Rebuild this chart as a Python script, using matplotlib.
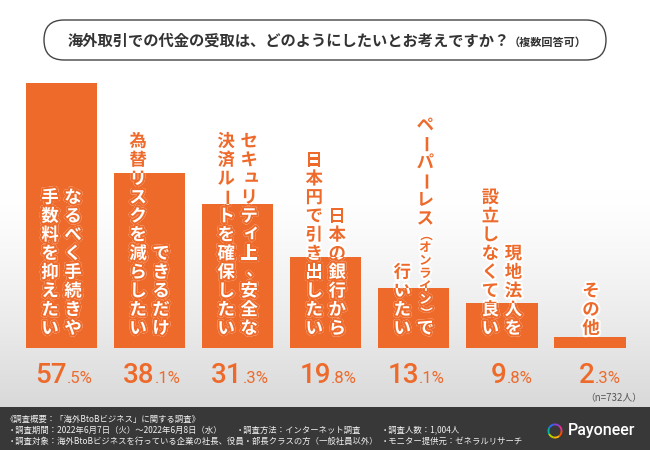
import matplotlib
matplotlib.use('Agg')
import matplotlib.pyplot as plt
import numpy as np
from matplotlib import patheffects as pe
from matplotlib.patches import FancyBboxPatch, Rectangle, Wedge

# ---------------- data ----------------
labels_right = ["なるべく手続きや", "できるだけ", "セキュリティ上、安全な", "日本の銀行から",
                "ペーパーレス（オンライン）で", "現地法人を", "その他"]
labels_left = ["手数料を抑えたい", "為替リスクを減らしたい", "決済ルートを確保したい",
               "日本円で引き出したい", "行いたい", "設立しなくて良い", ""]
values = [57.5, 38.1, 31.3, 19.8, 13.1, 9.8, 2.3]

title_main = "海外取引での代金の受取は、どのようにしたいとお考えですか？"
title_sub = "（複数回答可）"
sample_note = "（n=732人）"
footer_lines = [
    ("《調査概要：「海外BtoBビジネス」に関する調査》", 6, 419),
    ("・調査期間：2022年6月7日（火）～2022年6月8日（水）", 8, 430),
    ("・調査方法：インターネット調査", 236, 430),
    ("・調査人数：1,004人", 381, 430),
    ("・調査対象：海外BtoBビジネスを行っている企業の社長、役員・部長クラスの方（一般社員以外）", 8, 441),
    ("・モニター提供元：ゼネラルリサーチ", 381, 441),
]
brand = "Payoneer"

ORANGE = '#EE6A2B'
JP = ['Noto Sans CJK JP', 'DejaVu Sans']
DPI = 100
PT = 72.0 / DPI

fig = plt.figure(figsize=(6.5, 4.5), dpi=DPI)

# background axes in pixel coordinates
bg = fig.add_axes([0, 0, 1, 1])
bg.set_xlim(0, 650)
bg.set_ylim(450, 0)
bg.axis('off')

g = np.linspace(0, 1, 256) ** 1.3
c = 1 - 0.15 * g
img = np.dstack([c, c, c]).reshape(256, 1, 3)
bg.imshow(img, extent=(0, 650, 407, 190), aspect='auto', zorder=0)
bg.add_patch(Rectangle((0, 407), 650, 43, facecolor='#383838', edgecolor='none', zorder=1))

# title box
bg.add_patch(FancyBboxPatch((44, 20), 562, 40, boxstyle="round,pad=0,rounding_size=20",
                            facecolor='white', edgecolor='#444444', linewidth=1.0, zorder=2))
bg.text(68, 41, title_main, fontsize=11, fontweight='bold', color='#333333',
        family=JP, ha='left', va='center', zorder=3)
bg.text(509, 42, title_sub, fontsize=8, fontweight='bold', color='#333333',
        family=JP, ha='left', va='center', zorder=3)

bg.text(642, 398, sample_note, fontsize=7, color='#555555', family=JP,
        ha='right', va='center', zorder=3)

for txt, x, y in footer_lines:
    bg.text(x, y, txt, fontsize=6, color='#f0f0f0', family=JP, ha='left', va='center', zorder=3)

# Payoneer logo
ring_colors = ['#ff4d00', '#ffb300', '#b9d300', '#00b3a4', '#2f6df2', '#8a3fd6', '#e8318a']
n = len(ring_colors)
for k, col in enumerate(ring_colors):
    bg.add_patch(Wedge((555, 431), 7.5, k * 360 / n, (k + 1) * 360 / n + 1, width=1.9,
                       facecolor=col, edgecolor='none', zorder=3))
bg.text(568, 431, brand, fontsize=11.5, color='white', family=['Roboto', 'DejaVu Sans'],
        fontweight='medium', ha='left', va='center', zorder=3)

# bars axes
ax = fig.add_axes([17.5 / 650, 102 / 450, 616.5 / 650, 299 / 450])
ax.patch.set_alpha(0)
ax.axis('off')
ax.set_xlim(-0.5, 6.5)
ax.set_ylim(0, 65)
bars = ax.bar(range(len(values)), values, width=0.81, color=ORANGE, zorder=2)


def draw_column(i, text, dx_px, bar):
    items = []
    small = False
    for ch in text:
        if ch == '（':
            small = True
        items.append((ch, small))
        if ch == '）':
            small = False
    y = 10.0
    for ch, s in reversed(items):
        p = 13.0 if s else 18.7
        yc = y + p / 2
        y += p
        rot = -90 if ch in 'ー（）' else 0
        ddx, ddy = 0, 0
        if ch in 'ュィッャョ':
            ddx, ddy = 2.5, 2.5
        if ch == '、':
            ddx, ddy = 5, 2
        fs = 9 if s else 12.5
        if ch == '、':
            fs = 11
        common = dict(xy=(i, 0), xycoords='data',
                      xytext=((dx_px + ddx) * PT, (yc + ddy) * PT), textcoords='offset points',
                      ha='center', va='center', fontsize=fs, fontweight='bold',
                      rotation=rot, family=JP, annotation_clip=False)
        ax.annotate(ch, color=ORANGE, zorder=3,
                    path_effects=[pe.withStroke(linewidth=3, foreground='white')], **common)
        t2 = ax.annotate(ch, color='white', zorder=4,
                         path_effects=[pe.withStroke(linewidth=3, foreground=ORANGE)], **common)
        t2.set_clip_path(bar)


for i, bar in enumerate(bars):
    if labels_left[i]:
        draw_column(i, labels_right[i], 11.5, bar)
        draw_column(i, labels_left[i], -11.5, bar)
    else:
        draw_column(i, labels_right[i], 1, bar)

    s = f"{values[i]:.1f}%"
    major, minor = s.split('.')
    ax.annotate(major, xy=(i, 0), xycoords='data', xytext=(5 * PT, -35 * PT),
                textcoords='offset points', ha='right', va='baseline', fontsize=20,
                color=ORANGE, family=['Roboto', 'DejaVu Sans'], fontweight='medium',
                annotation_clip=False)
    ax.annotate('.' + minor, xy=(i, 0), xycoords='data', xytext=(5 * PT, -35 * PT),
                textcoords='offset points', ha='left', va='baseline', fontsize=12,
                color=ORANGE, family=['Roboto', 'DejaVu Sans'], fontweight='normal',
                annotation_clip=False)

fig.savefig('out.png', dpi=DPI)
